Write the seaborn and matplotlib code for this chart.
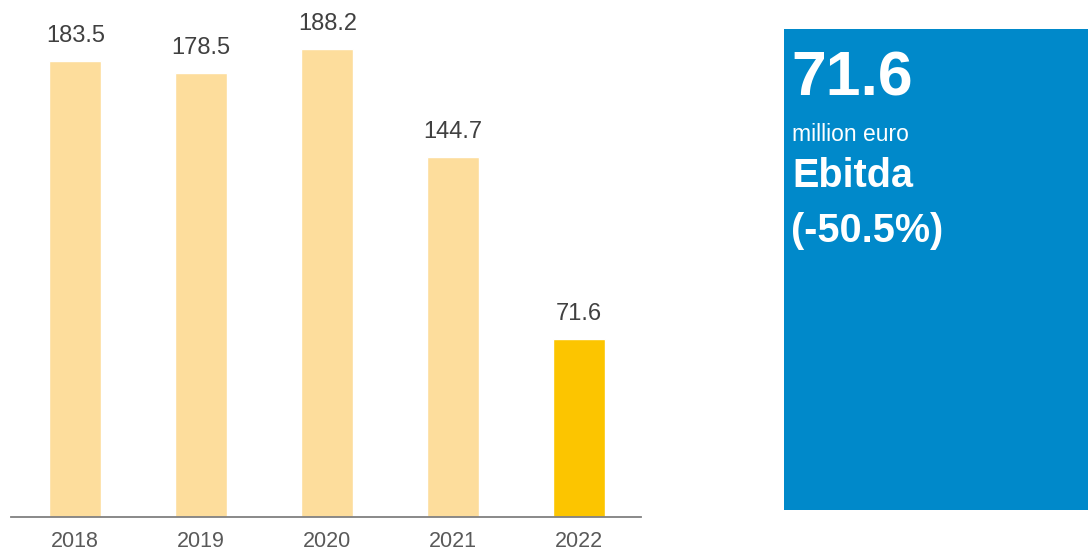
import matplotlib
matplotlib.use("Agg")
import matplotlib.pyplot as plt
import seaborn as sns
import pandas as pd

# Ebitda by year, million euro
years = ["2018", "2019", "2020", "2021", "2022"]
ebitda = [183.5, 178.5, 188.2, 144.7, 71.6]
bar_colors = ["#FDDD9C", "#FDDD9C", "#FDDD9C", "#FDDD9C", "#FCC500"]

headline_value = "71.6"
headline_unit = "million euro"
headline_title = "Ebitda"
headline_change = "(-50.5%)"

sns.set_theme(style="white")
plt.rcParams["font.family"] = ["Liberation Sans", "DejaVu Sans"]

W, H = 1088, 552
fig = plt.figure(figsize=(W / 100, H / 100), dpi=100)
fig.patch.set_facecolor("white")

# Bar chart area
ax = fig.add_axes([11 / W, (H - 517) / H, (641 - 11) / W, 517 / H])
df = pd.DataFrame({"year": years, "ebitda": ebitda})
sns.barplot(data=df, x="year", y="ebitda", hue="year", palette=bar_colors,
            width=0.41, legend=False, ax=ax, saturation=1)
ax.set_xlim(-0.51, 4.49)
ax.set_ylim(0, 208)
ax.set_xlabel("")
ax.set_ylabel("")
ax.set_yticks([])
for s in ["top", "right", "left"]:
    ax.spines[s].set_visible(False)
ax.spines["bottom"].set_color("#808080")
ax.spines["bottom"].set_linewidth(1.3)
ax.tick_params(axis="x", length=0, pad=10, labelsize=15.5, labelcolor="#595959")
ax.set_facecolor("none")

for i, v in enumerate(ebitda):
    ax.annotate(f"{v:.1f}", xy=(i, v), xytext=(0, 10), textcoords="offset points",
                ha="center", va="bottom", fontsize=17, color="#404040")

# Highlight panel
bx = fig.add_axes([784 / W, (H - 510) / H, (W - 784) / W, (510 - 29) / H])
bx.set_facecolor("#0089CA")
bx.set_xticks([])
bx.set_yticks([])
for s in bx.spines.values():
    s.set_visible(False)

def fig_text(x_px, y_px, txt, size, weight):
    fig.text(x_px / W, (H - y_px) / H, txt, fontsize=size, fontweight=weight,
             color="white", ha="left", va="baseline")

fig_text(791, 95, headline_value, 45, "bold")
fig_text(792, 141, headline_unit, 16.5, "normal")
fig_text(792, 187, headline_title, 28.5, "bold")
fig_text(791, 242, headline_change, 28.5, "bold")

fig.savefig("out.png", dpi=100)
